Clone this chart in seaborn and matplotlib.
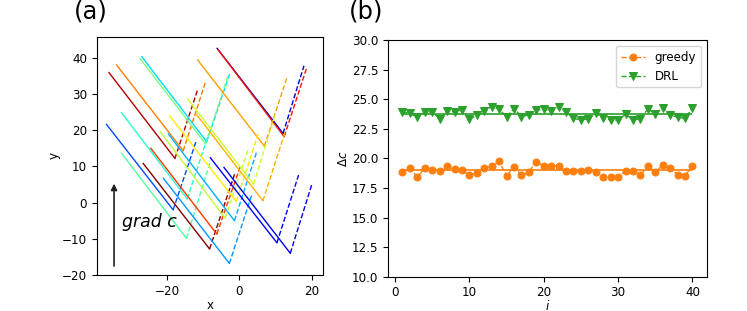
import numpy as np
import matplotlib
matplotlib.use("Agg")
import matplotlib.pyplot as plt
import seaborn as sns

# panel (a): trajectories, each = start -> bottom (solid), bottom -> end (dashed)
traj_cvals = [0.07, 0.89, 0.955, 0.775, 0.34, 0.50, 0.74, 0.20, 0.45, 0.40,
              1.00, 0.85, 0.27, 0.30, 0.58, 0.66, 0.60, 0.72, 0.12, 0.10]
traj_start = [(-6.2, 42.6), (-6.0, 42.3), (-36.2, 35.9), (-34.1, 38.0), (-27.1, 40.3),
              (-27.6, 39.8), (-11.6, 39.4), (-36.9, 21.6), (-32.7, 13.6), (-32.7, 24.8),
              (-26.7, 10.8), (-24.6, 15.0), (-21.1, 6.7), (-19.7, 18.9), (-22.0, 19.6),
              (-19.3, 23.9), (-14.4, 28.6), (-11.9, 24.3), (-8.1, 12.4), (-4.3, 9.7)]
traj_bottom = [(12.1, 19.1), (12.4, 18.2), (-17.9, 12.2), (-15.6, 14.3), (-9.1, 16.8),
               (-9.4, 16.2), (6.9, 15.6), (-18.4, -2.0), (-14.7, -9.9), (-14.5, 1.0),
               (-8.3, -12.8), (-6.3, -8.7), (-2.8, -16.8), (-1.4, -5.0), (-4.0, -4.3),
               (-0.9, 0.3), (3.9, 5.1), (6.5, 0.5), (10.4, -11.1), (14.1, -14.0)]
traj_end = [(17.9, 37.8), (18.6, 37.1), (-11.7, 30.9), (-9.4, 33.4), (-2.6, 35.9),
            (-3.0, 35.5), (13.1, 34.3), (-12.0, 17.0), (-8.2, 11.0), (-8.7, 18.5),
            (-1.3, 8.0), (0.2, 9.9), (3.4, 2.1), (4.8, 14.1), (2.5, 15.0),
            (5.3, 19.3), (9.9, 24.2), (12.7, 19.6), (16.4, 7.6), (20.1, 5.1)]

# panel (b)
runs = np.arange(1, 41)
greedy = [18.82, 19.15, 18.45, 19.15, 19.0, 18.96, 19.35, 19.07, 19.0, 18.56,
          18.79, 19.18, 19.35, 19.75, 18.5, 19.3, 18.56, 18.85, 19.72, 19.35,
          19.35, 19.38, 18.9, 18.96, 18.9, 19.0, 18.85, 18.45, 18.45, 18.45,
          18.9, 18.96, 18.56, 19.38, 18.85, 19.41, 19.21, 18.62, 18.54, 19.35]
drl = [23.94, 23.8, 23.46, 23.94, 23.92, 23.35, 24.03, 23.92, 24.08, 23.32,
       23.63, 24.03, 24.37, 24.14, 23.52, 24.2, 23.52, 23.69, 24.08, 24.14,
       24.0, 24.31, 23.92, 23.38, 23.24, 23.35, 23.8, 23.41, 23.24, 23.24,
       23.72, 23.24, 23.35, 24.17, 23.75, 24.28, 23.69, 23.46, 23.38, 24.25]

plt.rcParams['font.family'] = ['DejaVu Sans']
fs = 8.6
fig = plt.figure(figsize=(7.47, 3.11), dpi=100)
ax1 = fig.add_axes([0.1295, 0.1158, 0.3035, 0.7660])
ax2 = fig.add_axes([0.5194, 0.1103, 0.4270, 0.7611])

cmap = plt.get_cmap('jet')
for v, s, b, e in zip(traj_cvals, traj_start, traj_bottom, traj_end):
    c = cmap(v)
    sns.lineplot(x=[s[0], b[0]], y=[s[1], b[1]], ax=ax1, color=c, lw=1.0, sort=False, estimator=None)
    sns.lineplot(x=[b[0], e[0]], y=[b[1], e[1]], ax=ax1, color=c, lw=1.0, ls='--', sort=False, estimator=None)

ax1.annotate('', xy=(-34.8, 6.0), xytext=(-34.8, -18.3),
             arrowprops=dict(arrowstyle='-|>', color='#222222', lw=1.2, mutation_scale=9))
ax1.text(-32.7, -5.5, 'grad c', fontsize=12.5, style='italic', va='center', ha='left')
ax1.set_xlim(-39.6, 23.3)
ax1.set_ylim(-20, 45.8)
ax1.set_xticks([-20, 0, 20])
ax1.set_yticks([-20, -10, 0, 10, 20, 30, 40])
ax1.set_xlabel('x', fontsize=fs, labelpad=1)
ax1.set_ylabel('y', fontsize=fs, labelpad=1)
ax1.tick_params(labelsize=fs)

orange = '#ff7f0e'
green = '#2ca02c'
sns.lineplot(x=runs, y=greedy, ax=ax2, color=orange, ls='--', lw=1.0, marker='o',
             markersize=5, markeredgecolor=orange, label='greedy')
sns.lineplot(x=runs, y=drl, ax=ax2, color=green, ls='--', lw=1.0, marker='v',
             markersize=5.5, markeredgecolor=green, label='DRL')
ax2.hlines(np.mean(greedy), runs[0], runs[-1], color=orange, lw=1.2)
ax2.hlines(np.mean(drl), runs[0], runs[-1], color=green, lw=1.2)
ax2.set_ylim(10, 30)
ax2.set_xlim(-0.95, 41.95)
ax2.set_yticks(np.arange(10, 30.1, 2.5))
ax2.set_xlabel('$i$', fontsize=fs, labelpad=0)
ax2.set_ylabel(r'$\Delta c$', fontsize=fs, labelpad=1)
ax2.tick_params(labelsize=fs)
ax2.legend(loc='upper right', fontsize=fs)

fig.text(91 / 747, 1 - 12 / 311, '(a)', ha='center', va='center', fontsize=17.5)
fig.text(366 / 747, 1 - 12 / 311, '(b)', ha='center', va='center', fontsize=17.5)

fig.savefig('out.png', dpi=100)
